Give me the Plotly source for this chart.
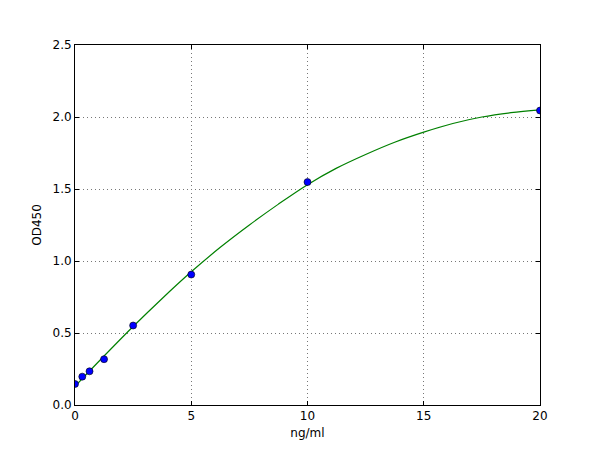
import plotly.graph_objects as go

conc = [0, 0.3125, 0.625, 1.25, 2.5, 5, 10, 20]
od = [0.146, 0.197, 0.234, 0.318, 0.552, 0.906, 1.548, 2.045]

curve_x = [0, 1.25, 2.5, 3.75, 5, 6.25, 7.5, 8.75, 10, 11.25, 12.5, 13.75, 15, 16.25, 17.5, 18.75, 20]
curve_y = [0.13, 0.34, 0.545, 0.74, 0.925, 1.095, 1.25, 1.395, 1.53, 1.645, 1.74, 1.825, 1.895, 1.955, 2.0, 2.03, 2.05]

x_ticks = [0, 5, 10, 15, 20]
y_ticks = [0.0, 0.5, 1.0, 1.5, 2.0, 2.5]
y_tick_text = ["0.0", "0.5", "1.0", "1.5", "2.0", "2.5"]

fig = go.Figure()
fig.add_trace(go.Scatter(x=curve_x, y=curve_y, mode="lines",
                         line=dict(color="#008000", width=1.2, shape="spline"),
                         showlegend=False, hoverinfo="skip"))
fig.add_trace(go.Scatter(x=conc, y=od, mode="markers",
                         marker=dict(color="#0000ff", size=7,
                                     line=dict(color="#000000", width=0.6)),
                         showlegend=False))

axis_common = dict(showline=True, linecolor="black", linewidth=1, mirror="ticks",
                   ticks="inside", ticklen=4, tickcolor="black",
                   showgrid=True, gridcolor="#777777", griddash="1px,3px", gridwidth=1,
                   zeroline=False, tickfont=dict(family="DejaVu Sans", size=12, color="black"))

fig.update_xaxes(range=[0, 20], tickvals=x_ticks,
                 title=dict(text="ng/ml", font=dict(family="DejaVu Sans", size=12, color="black"), standoff=6),
                 **axis_common)
fig.update_yaxes(range=[0, 2.5], tickvals=y_ticks, ticktext=y_tick_text,
                 title=dict(text="OD450", font=dict(family="DejaVu Sans", size=12, color="black"), standoff=8),
                 **axis_common)

fig.update_layout(width=600, height=450,
                  margin=dict(l=67, r=68, t=37, b=53),
                  paper_bgcolor="white", plot_bgcolor="white",
                  font=dict(family="DejaVu Sans", size=12, color="black"))

fig.write_html("out.html")
